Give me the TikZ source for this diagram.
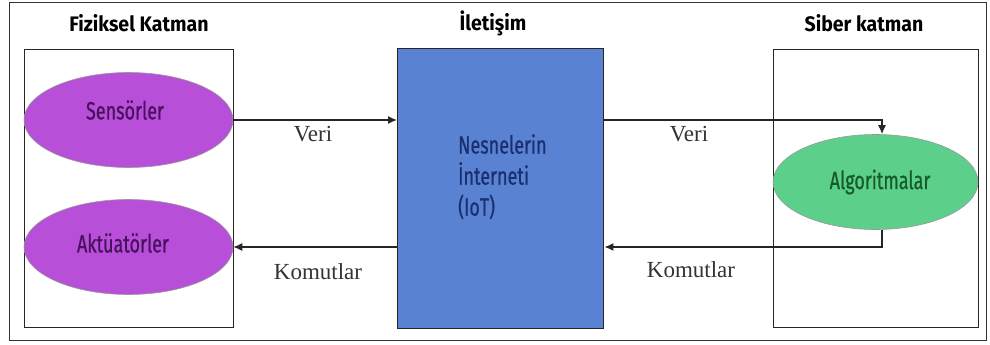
\documentclass[tikz,border=0pt]{standalone}
\usepackage{fontspec}
\setmainfont{Liberation Serif}
\newfontfamily\headfont[FakeStretch=0.93]{Fira Sans}
\newfontfamily\condfont[FakeStretch=0.72,FakeBold=0.6]{Fira Sans}
\usetikzlibrary{arrows.meta,shapes.geometric}
\definecolor{purp}{HTML}{B84FD8}
\definecolor{purptext}{HTML}{4A1060}
\definecolor{bluebox}{HTML}{5A82D2}
\definecolor{bluetext}{HTML}{1A2E70}
\definecolor{greenel}{HTML}{5CCF8A}
\definecolor{greentext}{HTML}{155A28}
\definecolor{labelgray}{HTML}{333333}
\tikzset{
  header/.style={font=\headfont\bfseries\fontsize{21}{24}\selectfont, text=black},
  frame/.style={draw=black!85, line width=1.4pt},
  ell/.style={ellipse, draw=black!40, line width=0.6pt, inner sep=0pt},
  elltext/.style={font=\condfont\fontsize{25}{31}\selectfont},
  lbl/.style={font=\fontsize{23}{26}\selectfont, text=labelgray},
  conn/.style={draw=black!85, line width=1.3pt},
  tip/.style={-{Latex[length=9pt,width=8pt]}}
}
\begin{document}
\begin{tikzpicture}[x=1pt,y=-1pt]
\useasboundingbox (0,0) rectangle (990,345);
\node[draw=black!80, line width=1pt, minimum width=977pt, minimum height=338pt, anchor=north west, inner sep=0pt] (outer) at (9,2) {};
% headers
\node[header] (h1) at (139,23) {Fiziksel Katman};
\node[header] (h2) at (493,23) {İletişim};
\node[header] (h3) at (864,23) {Siber katman};
% boxes
\node[frame, minimum width=209pt, minimum height=278pt, anchor=north west] (left) at (24,49) {};
\node[frame, fill=bluebox, minimum width=206pt, minimum height=280pt, anchor=north west] (mid) at (397,48) {};
\node[frame, minimum width=205pt, minimum height=278pt, anchor=north west] (right) at (773,49) {};
% ellipses
\node[ell, fill=purp, minimum width=209pt, minimum height=95pt] (sens) at (128.5,120) {};
\node[elltext, text=purptext] (senst) at (125,110) {Sensörler};
\node[ell, fill=purp, minimum width=209pt, minimum height=95pt] (akt) at (128.5,247) {};
\node[elltext, text=purptext] (aktt) at (123,243) {Aktüatörler};
\node[ell, fill=greenel, minimum width=205pt, minimum height=95pt] (alg) at (875.5,182) {};
\node[elltext, text=greentext] (algt) at (880,182) {Algoritmalar};
% IoT text
\node[elltext, text=bluetext, align=left, anchor=north west, inner sep=0pt] (iot) at (458,134) {Nesnelerin\\İnterneti\\(IoT)};
% connectors
\coordinate (topr) at (882,120);
\coordinate (botr) at (882,247);
\draw[conn, tip] (sens.east) -- (sens.east -| mid.west);
\draw[conn, tip] (mid.west |- akt.east) -- (akt.east);
\draw[conn, tip] (mid.east |- topr) -- (topr) -- (alg.north -| topr);
\draw[conn, tip] (alg.south -| botr) -- (botr) -- (botr -| mid.east);
% labels
\node[lbl] (v1) at (313,134) {Veri};
\node[lbl] (k1) at (318,272) {Komutlar};
\node[lbl] (v2) at (689,134) {Veri};
\node[lbl] (k2) at (691,270) {Komutlar};
\end{tikzpicture}
\end{document}
